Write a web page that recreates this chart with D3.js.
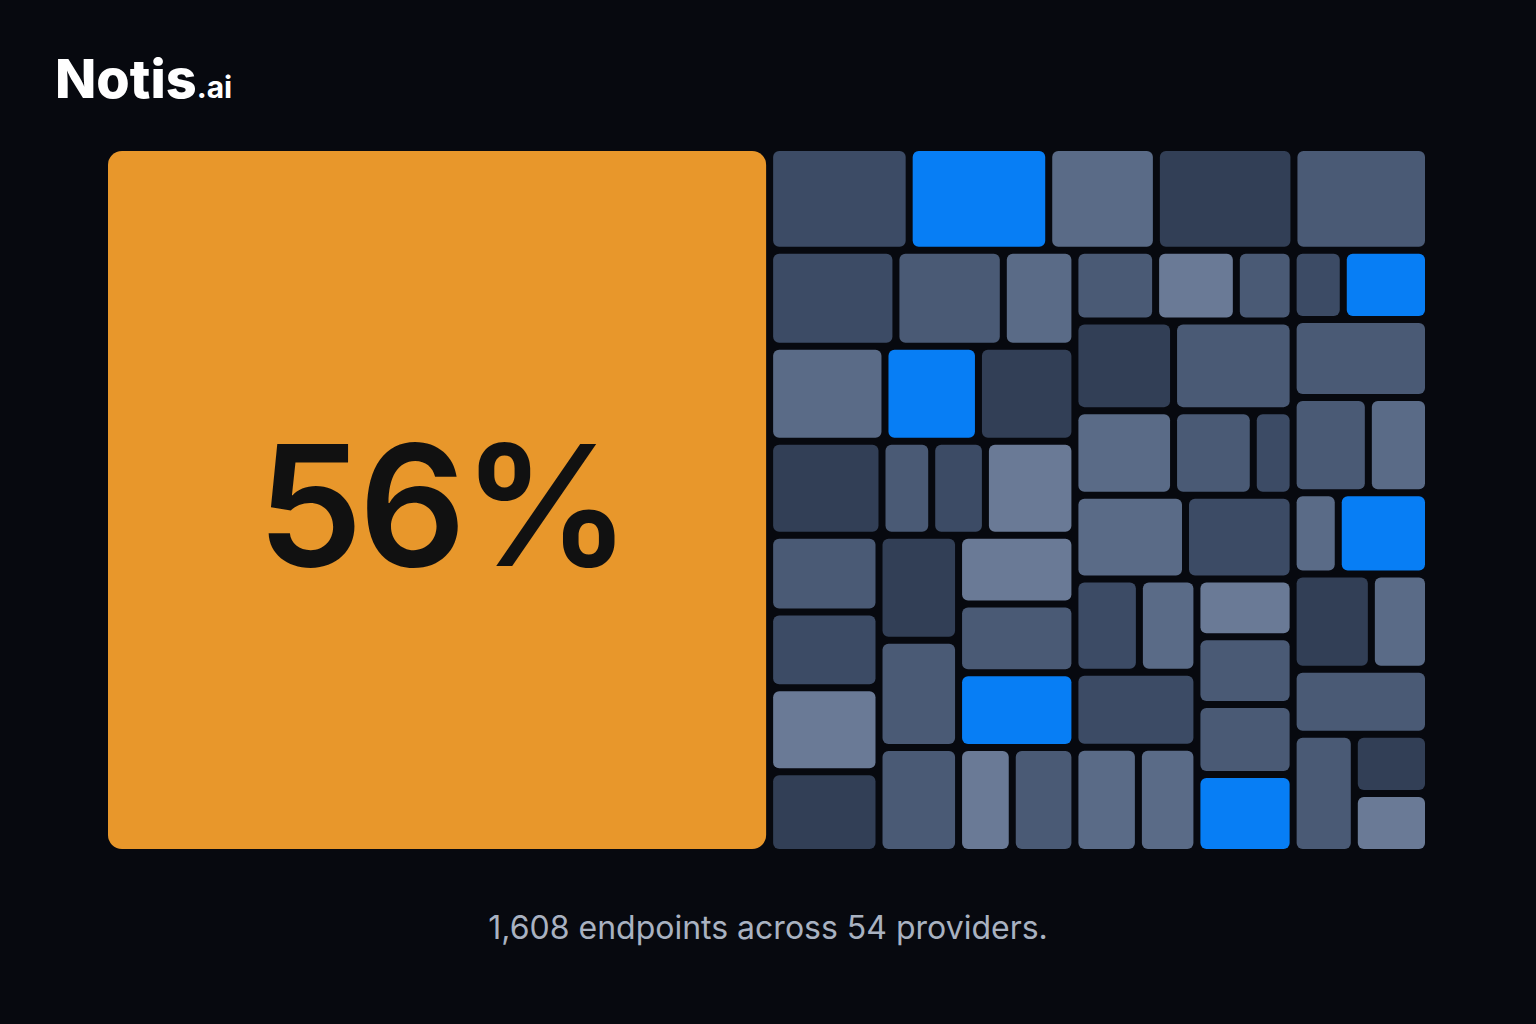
<!DOCTYPE html>
<html><head><meta charset="utf-8">
<script src="https://cdn.jsdelivr.net/npm/d3@7"></script>
<style>html,body{margin:0;background:#07090f;}svg{display:block}</style></head>
<body><svg id="c" width="1536" height="1024"></svg>
<script>
const headline = "56%";
const caption = "1,608 endpoints across 54 providers.";
const palette = {c1:"#323f56", c2:"#3c4b65", c3:"#4a5a75", c4:"#5a6b87", c5:"#6a7a96", blue:"#077ef5", orange:"#e8972b"};
// leaf spans [width, height, colour] (including gaps)
const L = (w,h,c)=>({value:(w)*(h), c});
const H = (...ch)=>({dir:"h", children:ch});
const V = (...ch)=>({dir:"v", children:ch});
const topRow = [[140,"c2"],[140,"blue"],[108,"c4"],[138,"c1"],[135,"c3"]];
const tree = H(
  L(662,705,"orange"),
  V(
    H(...topRow.map(d=>L(d[0],102,d[1]))),
    H(
      V(
        H(L(127,95,"c2"),L(108,95,"c3"),L(72,95,"c4")),
        H(L(116,94,"c4"),L(94,94,"blue"),L(97,94,"c1")),
        H(L(113,93,"c1"),L(50,93,"c3"),L(54,93,"c2"),L(90,93,"c5")),
        H(
          V(L(110,76,"c3"),L(110,75,"c2"),L(110,83,"c5"),L(110,80,"c1")),
          V(L(80,104,"c1"),L(80,106,"c3"),L(80,104,"c3")),
          V(L(117,68,"c5"),L(117,68,"c3"),L(117,74,"blue"),
            H(L(54,104,"c5"),L(63,104,"c3")))
        )
      ),
      V(
        H(L(81,70,"c3"),L(81,70,"c5"),L(57,70,"c3")),
        H(L(99,89,"c1"),L(120,89,"c3")),
        H(L(99,84,"c4"),L(80,84,"c3"),L(40,84,"c2")),
        H(L(111,83,"c4"),L(108,83,"c2")),
        H(
          V(H(L(65,92,"c2"),L(58,92,"c4")), L(123,74,"c2"), H(L(64,104,"c4"),L(59,104,"c4"))),
          V(L(97,57,"c5"),L(97,67,"c3"),L(97,69,"c3"),L(97,77,"blue"))
        )
      ),
      V(
        H(L(50,69,"c2"),L(85,69,"blue")),
        L(135,78,"c3"),
        H(L(75,95,"c3"),L(60,95,"c4")),
        H(L(45,81,"c4"),L(90,81,"blue")),
        H(L(78,95,"c1"),L(57,95,"c4")),
        L(135,65,"c3"),
        H(L(61,118,"c3"), V(L(74,59,"c1"),L(74,59,"c5")))
      )
    )
  )
);
const svg = d3.select("#c");
const root = d3.hierarchy(tree).sum(d=>d.children?0:d.value);
const tile = (node,x0,y0,x1,y1)=> (node.data.dir==="h"?d3.treemapDice:d3.treemapSlice)(node,x0,y0,x1,y1);
d3.treemap().tile(tile).size([1317,698]).paddingInner(7).round(false)(root);
const g = svg.append("g").attr("transform","translate(108,151)");
g.selectAll("rect").data(root.leaves()).join("rect")
  .attr("x",d=>d.x0).attr("y",d=>d.y0)
  .attr("width",d=>Math.max(0,d.x1-d.x0)).attr("height",d=>Math.max(0,d.y1-d.y0))
  .attr("rx",d=>d.data.c==="orange"?14:6)
  .attr("fill",d=>palette[d.data.c]);
const big = root.leaves()[0];
g.append("text").attr("x",(big.x0+big.x1)/2+5).attr("y",(big.y0+big.y1)/2+66)
  .attr("text-anchor","middle").attr("font-family","Inter, Lato, sans-serif")
  .attr("font-weight",600).attr("font-size",168).attr("letter-spacing",-4).attr("fill","#111").text(headline);
svg.append("text").attr("x",768).attr("y",939).attr("text-anchor","middle")
  .attr("font-family","Inter, 'Noto Sans', sans-serif").attr("font-size",32)
  .attr("fill","#a9b2c1").text(caption);
const logo = svg.append("text").attr("x",55).attr("y",98).attr("font-family","Inter, sans-serif")
  .attr("font-weight",800).attr("fill","#fff");
logo.append("tspan").attr("font-size",54).text("Notis");
logo.append("tspan").attr("font-size",30).attr("font-weight",700).text(".ai");
</script></body></html>
